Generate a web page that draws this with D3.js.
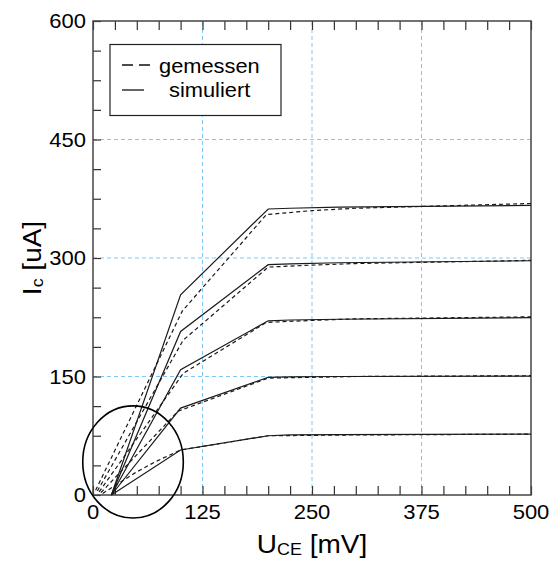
<!DOCTYPE html>
<html>
<head>
<meta charset="utf-8">
<script src="https://cdn.jsdelivr.net/npm/d3@7"></script>
<style>
  html, body { margin: 0; padding: 0; background: #fff; }
  svg text { font-family: "Liberation Sans", Arial, Helvetica, sans-serif; fill: #000; }
</style>
</head>
<body>
<svg id="chart" width="555" height="561"></svg>
<script>
// Output characteristics: collector current vs. collector-emitter voltage
const xTicks = [0, 125, 250, 375, 500];
const yTicks = [0, 150, 300, 450, 600];

// simulated curves (solid), common voltage grid in mV
const simU = [21, 100, 200, 225, 280, 500];
const sim1 = [0, 57, 75, 76, 76.5, 77];
const sim2 = [0, 110, 149, 149.5, 150, 150.5];
const sim3 = [0, 158.5, 220.5, 221.5, 222.5, 224.5];
const sim4 = [0, 207, 291.5, 292.5, 294, 296.5];
const sim5 = [0, 253.5, 362, 363, 364.5, 366.5];

// measured curves (dashed), [U in mV, I in uA]
const meas1 = [[11, 2], [48, 28], [71, 42], [100, 57], [200, 75], [300, 76], [500, 77]];
const meas2 = [[9, 3], [97, 106], [200, 148], [250, 149], [300, 150], [500, 151]];
const meas3 = [[7, 4], [103, 154], [198, 218.5], [250, 221], [300, 223], [500, 225.5]];
const meas4 = [[5, 5], [103, 196], [200, 288.5], [250, 291], [300, 293], [500, 297]];
const meas5 = [[3, 6], [102, 233], [198, 355], [250, 360], [300, 363], [500, 369]];

// highlighted region near the origin: centre and radii in data units
const markCenter = [45.7, 41.8];
const markRadius = [57.4, 71];

const legendLabels = ["gemessen", "simuliert"];

const svg = d3.select("#chart");
const x = d3.scaleLinear().domain([0, 500]).range([93, 531]);
const y = d3.scaleLinear().domain([0, 600]).range([495, 21]);

const gridColor = "#7cc9f7";
const wide = 1.1; // horizontal widening of the label glyphs

// grid lines at the labelled ticks
const grid = svg.append("g");
grid.selectAll("line.gx").data(xTicks.slice(1, -1)).join("line")
  .attr("x1", d => x(d)).attr("x2", d => x(d))
  .attr("y1", y(0)).attr("y2", y(600))
  .attr("stroke", gridColor).attr("stroke-width", 1).attr("stroke-dasharray", "4,3");
grid.selectAll("line.gy").data(yTicks.slice(1, -1)).join("line")
  .attr("y1", d => y(d)).attr("y2", d => y(d))
  .attr("x1", x(0)).attr("x2", x(500))
  .attr("stroke", gridColor).attr("stroke-width", 1).attr("stroke-dasharray", "4,3");

// axes with inward ticks
const minorX = d3.range(0, 501, 25);
const minorY = d3.range(0, 601, 37.5);

const axB = svg.append("g").attr("transform", `translate(0,${y(0)})`)
  .call(d3.axisBottom(x).tickValues(minorX).tickSize(-9).tickFormat(""));
const axT = svg.append("g").attr("transform", `translate(0,${y(600)})`)
  .call(d3.axisTop(x).tickValues(minorX).tickSize(-9).tickFormat(""));
const axL = svg.append("g").attr("transform", `translate(${x(0)},0)`)
  .call(d3.axisLeft(y).tickValues(minorY).tickSize(-8).tickFormat(""));
[axB, axT, axL].forEach(g => {
  g.select(".domain").remove();
  g.selectAll(".tick line").attr("stroke", "#333").attr("stroke-width", 1.2);
});

// frame
svg.append("rect")
  .attr("x", x(0)).attr("y", y(600))
  .attr("width", x(500) - x(0)).attr("height", y(0) - y(600))
  .attr("fill", "none").attr("stroke", "#444").attr("stroke-width", 1.5);

// tick labels
svg.append("g").selectAll("text").data(xTicks).join("text")
  .attr("transform", d => `translate(${x(d)},${y(0) + 24}) scale(${wide},1)`)
  .attr("text-anchor", "middle").attr("font-size", 20)
  .text(d => d);
svg.append("g").selectAll("text").data(yTicks).join("text")
  .attr("transform", d => `translate(${x(0) - 7},${y(d) + 7}) scale(${wide},1)`)
  .attr("text-anchor", "end").attr("font-size", 20)
  .text(d => d);

// axis titles
const xt = svg.append("text")
  .attr("transform", `translate(${(x(0) + x(500)) / 2},553) scale(1.12,1)`)
  .attr("text-anchor", "middle").attr("font-size", 25);
xt.append("tspan").text("U");
xt.append("tspan").attr("font-size", 16).attr("dy", 2).text("CE");
xt.append("tspan").attr("dy", -2).text(" [mV]");

const yt = svg.append("text")
  .attr("transform", `translate(41,${(y(0) + y(600)) / 2}) rotate(-90) scale(1.12,1)`)
  .attr("text-anchor", "middle").attr("font-size", 25);
yt.append("tspan").text("I");
yt.append("tspan").attr("font-size", 16).attr("dy", 2).text("c");
yt.append("tspan").attr("dy", -2).text(" [uA]");

// curves
const line = d3.line().x(d => x(d[0])).y(d => y(d[1]));
const simCurves = [sim1, sim2, sim3, sim4, sim5].map(s => simU.map((u, i) => [u, s[i]]));
const measCurves = [meas1, meas2, meas3, meas4, meas5];

svg.append("g").selectAll("path").data(simCurves).join("path")
  .attr("d", line).attr("fill", "none")
  .attr("stroke", "#1a1a1a").attr("stroke-width", 1.2);
svg.append("g").selectAll("path").data(measCurves).join("path")
  .attr("d", line).attr("fill", "none")
  .attr("stroke", "#1a1a1a").attr("stroke-width", 1.2)
  .attr("stroke-dasharray", "4,3");

// marked region around the origin
svg.append("ellipse")
  .attr("cx", x(markCenter[0])).attr("cy", y(markCenter[1]))
  .attr("rx", x(markRadius[0]) - x(0)).attr("ry", y(0) - y(markRadius[1]))
  .attr("fill", "none").attr("stroke", "#000").attr("stroke-width", 1.6);

// legend
const lg = svg.append("g");
lg.append("rect").attr("x", 110).attr("y", 44.5).attr("width", 171).attr("height", 71)
  .attr("fill", "#fff").attr("stroke", "#222").attr("stroke-width", 1.2);
lg.append("line").attr("x1", 122).attr("x2", 152).attr("y1", 65).attr("y2", 65)
  .attr("stroke", "#111").attr("stroke-width", 1.3).attr("stroke-dasharray", "11,6");
lg.append("line").attr("x1", 122).attr("x2", 144).attr("y1", 90).attr("y2", 90)
  .attr("stroke", "#111").attr("stroke-width", 1.3);
lg.append("text").attr("transform", "translate(159,73) scale(1.04,1)").attr("font-size", 21).text(legendLabels[0]);
lg.append("text").attr("transform", "translate(169,97) scale(1.04,1)").attr("font-size", 21).text(legendLabels[1]);
</script>
</body>
</html>
